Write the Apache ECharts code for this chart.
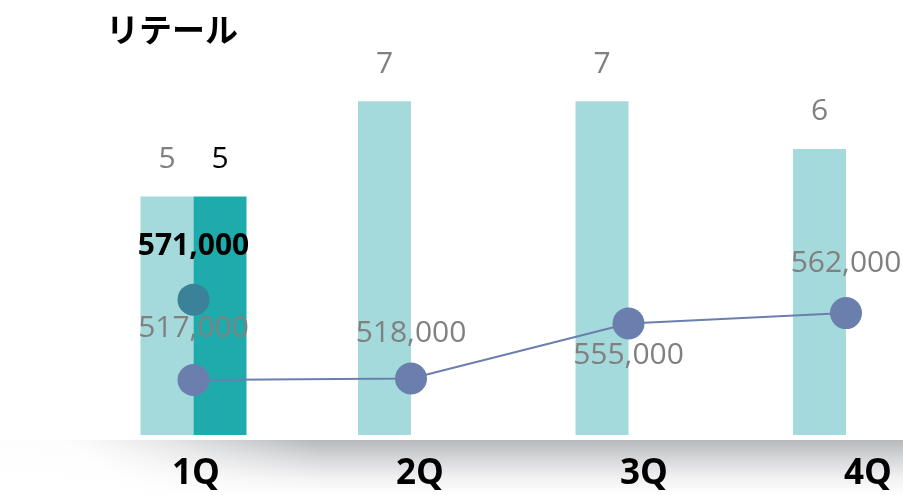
<!DOCTYPE html>
<html>
<head>
<meta charset="utf-8">
<script src="https://cdn.jsdelivr.net/npm/echarts@6/dist/echarts.min.js"></script>
<style>
  html, body { margin: 0; padding: 0; background: #ffffff; }
  #chart { width: 903px; height: 495px; }
</style>
</head>
<body>
<div id="chart"></div>
<script>
// Quarterly data
const quarters = ['1Q', '2Q', '3Q', '4Q'];
const countAll = [5, 7, 7, 6];
const countCurrent = [5, null, null, null];
const amountAll = [517000, 518000, 555000, 562000];
const amountCurrent = [571000, null, null, null];

// per-point label placement for the amount line
const amountLabelPos = ['top', 'top', 'bottom', 'top'];
const amountLabelDist = [21, 14, 1, 19];

const fontLatin = '"Open Sans", "Noto Sans", sans-serif';
const fontJp = '"Noto Sans CJK JP", sans-serif';

const chart = echarts.init(document.getElementById('chart'), null, { renderer: 'canvas' });

const fmt = v => v.toLocaleString('en-US');

chart.setOption({
  animation: false,
  backgroundColor: '#ffffff',
  title: {
    text: 'リテール',
    left: 101,
    top: 8,
    textStyle: { fontFamily: fontJp, fontSize: 33, fontWeight: 'bold', color: '#000000' }
  },
  graphic: [
    // floor shadow under the bars
    {
      type: 'rect',
      z: -10,
      shape: { x: 0, y: 440, width: 903, height: 55 },
      style: {
        fill: new echarts.graphic.LinearGradient(0, 0, 0, 1, [
          { offset: 0, color: '#b7b8bb' },
          { offset: 0.3, color: '#d3d4d6' },
          { offset: 0.7, color: '#f2f2f3' },
          { offset: 1, color: '#ffffff' }
        ])
      }
    },
    // soft fade of the shadow towards the lower left
    {
      type: 'rect',
      z: -9,
      shape: { x: 0, y: 440, width: 360, height: 55 },
      style: {
        fill: new echarts.graphic.RadialGradient(0, 570, 340, [
          { offset: 0, color: 'rgba(255,255,255,1)' },
          { offset: 0.42, color: 'rgba(255,255,255,0.97)' },
          { offset: 0.7, color: 'rgba(255,255,255,0.5)' },
          { offset: 1, color: 'rgba(255,255,255,0)' }
        ], true)
      }
    }
  ],
  grid: [
    // bars and line: category points at the quarter centres
    { left: 193.5, right: 57, top: 45, bottom: 60 },
    // quarter labels
    { left: 196, right: 35, top: 45, bottom: 60 }
  ],
  xAxis: [
    {
      type: 'category', gridIndex: 0, data: quarters, boundaryGap: false,
      axisLine: { show: false }, axisTick: { show: false }, axisLabel: { show: false },
      splitLine: { show: false }
    },
    {
      type: 'category', gridIndex: 1, data: quarters, boundaryGap: false,
      axisLine: { show: false }, axisTick: { show: false }, splitLine: { show: false },
      axisLabel: {
        margin: 22,
        fontFamily: fontLatin, fontSize: 35, fontWeight: 'bold', color: '#000000'
      }
    }
  ],
  yAxis: [
    { type: 'value', gridIndex: 0, min: 0, max: 8.18, show: false },
    { type: 'value', gridIndex: 0, min: 480000, max: 742273, show: false },
    { type: 'value', gridIndex: 1, min: 0, max: 1, show: false }
  ],
  series: [
    {
      name: 'count', type: 'bar', xAxisIndex: 0, yAxisIndex: 0, clip: false,
      data: countAll, barWidth: 53, barGap: '0%',
      itemStyle: { color: '#a4dadc' },
      label: {
        show: true, position: 'top', distance: 22,
        fontFamily: fontLatin, fontSize: 30, color: '#808080'
      }
    },
    {
      name: 'countCurrent', type: 'bar', xAxisIndex: 0, yAxisIndex: 0, clip: false,
      data: countCurrent, barWidth: 53, barGap: '0%',
      itemStyle: { color: '#1fabac' },
      label: {
        show: true, position: 'top', distance: 22,
        fontFamily: fontLatin, fontSize: 30, color: '#000000'
      }
    },
    {
      name: 'amount', type: 'line', xAxisIndex: 0, yAxisIndex: 1, z: 5, clip: false,
      data: amountAll.map((v, i) => ({
        value: v,
        label: { position: amountLabelPos[i], distance: amountLabelDist[i] }
      })),
      symbol: 'circle', symbolSize: 32,
      lineStyle: { color: '#6b7fae', width: 2 },
      itemStyle: { color: '#6b7fae' },
      label: {
        show: true, formatter: p => fmt(p.value),
        fontFamily: fontLatin, fontSize: 30, color: '#808080'
      }
    },
    {
      name: 'amountCurrent', type: 'line', xAxisIndex: 0, yAxisIndex: 1, z: 5, clip: false,
      data: amountCurrent,
      symbol: 'circle', symbolSize: 32,
      itemStyle: { color: '#3b8299' },
      label: {
        show: true, position: 'top', distance: 22, formatter: p => fmt(p.value),
        fontFamily: fontLatin, fontSize: 30, fontWeight: 'bold', color: '#000000'
      }
    }
  ]
});
</script>
</body>
</html>
